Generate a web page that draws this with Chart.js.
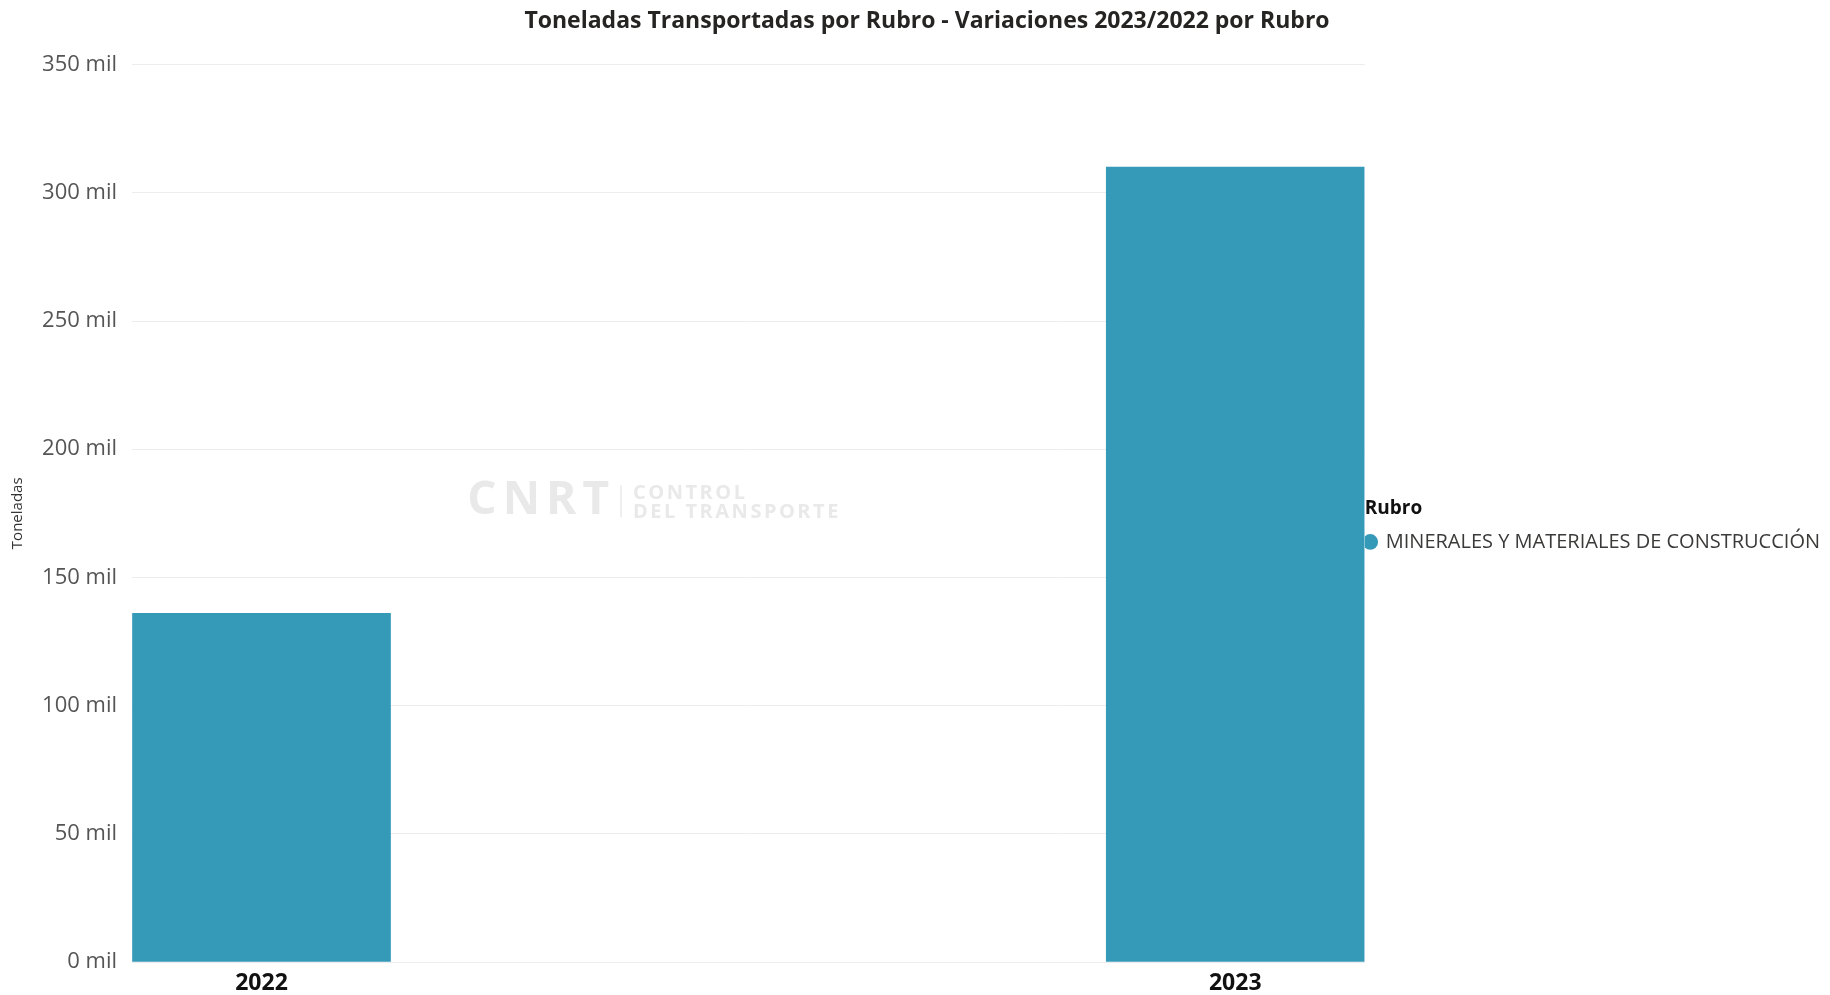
<!DOCTYPE html>
<html>
<head>
<meta charset="utf-8">
<script src="https://cdn.jsdelivr.net/npm/chart.js@4.4.1/dist/chart.umd.min.js"></script>
<style>
  html, body { margin: 0; padding: 0; background: #fff; }
  #wrap { width: 1830px; height: 995px; }
</style>
</head>
<body>
<div id="wrap"><canvas id="chart"></canvas></div>
<script>
// datos
const years = ['2022', '2023'];
const toneladas = [136000, 310000];
const rubro = 'MINERALES Y MATERIALES DE CONSTRUCCIÓN';
const yMax = 350000;
const yStep = 50000;

const FONT = "'Open Sans', 'Noto Sans', sans-serif";

// marca de agua CNRT
const watermark = {
    id: 'watermark',
    afterLayout(chart) {
        // el título está algo corrido a la derecha en el original
        const t = chart.titleBlock;
        if (t) { t.left += 12; t.right += 12; }
    },
    beforeDatasetsDraw(chart) {
        const ctx = chart.ctx;
        const a = chart.chartArea;
        const x = a.left + (a.right - a.left) * 0.272;
        const y = (a.top + a.bottom) / 2 - 12;
        ctx.save();
        ctx.fillStyle = '#e9e9e9';
        ctx.strokeStyle = '#e9e9e9';
        ctx.textBaseline = 'middle';
        ctx.font = `bold 46px ${FONT}`;
        ctx.letterSpacing = '6px';
        ctx.fillText('CNRT', x, y);
        const w = ctx.measureText('CNRT').width;
        ctx.lineWidth = 1.5;
        ctx.beginPath();
        ctx.moveTo(x + w + 6, y - 16);
        ctx.lineTo(x + w + 6, y + 16);
        ctx.stroke();
        ctx.font = `bold 20px ${FONT}`;
        ctx.letterSpacing = '2.5px';
        ctx.fillText('CONTROL', x + w + 18, y - 8);
        ctx.fillText('DEL TRANSPORTE', x + w + 18, y + 11);
        ctx.restore();
    }
};

new Chart(document.getElementById('chart'), {
    type: 'bar',
    data: {
        datasets: [{
            label: rubro,
            data: toneladas.map((v, i) => ({ x: i, y: v })),
            backgroundColor: '#3599B8',
            borderWidth: 0,
            barThickness: 258
        }]
    },
    options: {
        responsive: true,
        maintainAspectRatio: false,
        animation: false,
        // el padding inferior negativo baja las etiquetas del eje x
        layout: { padding: { left: 0, right: 0, top: 0, bottom: -10 } },
        plugins: {
            title: {
                display: true,
                text: 'Toneladas Transportadas por Rubro - Variaciones 2023/2022 por Rubro',
                color: '#252423',
                font: { family: FONT, size: 23, weight: 'bold' },
                padding: { top: 8, bottom: 29 }
            },
            legend: {
                position: 'right',
                align: 'center',
                maxWidth: 520,
                title: {
                    display: true,
                    text: 'Rubro',
                    position: 'start',
                    color: '#111',
                    font: { family: FONT, size: 19, weight: 'bold' },
                    padding: { top: 46, bottom: 10 }
                },
                labels: {
                    usePointStyle: true,
                    pointStyle: 'circle',
                    boxWidth: 11,
                    boxHeight: 11,
                    padding: 0,
                    color: '#3b3a39',
                    font: { family: FONT, size: 20 }
                }
            },
            tooltip: { enabled: false }
        },
        scales: {
            x: {
                type: 'linear',
                offset: false,
                min: -0.133,
                max: 1.133,
                grid: { display: false, drawTicks: false },
                border: { display: false },
                afterBuildTicks: (scale) => {
                    scale.ticks = years.map((_, i) => ({ value: i }));
                },
                ticks: {
                    padding: 11,
                    maxRotation: 0,
                    color: '#111',
                    font: { family: FONT, size: 23, weight: 'bold', lineHeight: 0.913 },
                    callback: (v) => years[v] ?? ''
                }
            },
            y: {
                min: 0,
                max: yMax,
                afterFit: (scale) => { scale.width = 132; },
                grid: { color: '#ededed', drawTicks: false },
                border: { display: false },
                ticks: {
                    stepSize: yStep,
                    padding: 15,
                    color: '#555',
                    font: { family: FONT, size: 22 },
                    callback: (v) => (v / 1000) + ' mil'
                },
                title: {
                    display: true,
                    text: 'Toneladas',
                    color: '#333',
                    padding: { top: 9, bottom: 0 },
                    font: { family: FONT, size: 15 }
                }
            }
        }
    },
    plugins: [watermark]
});
</script>
</body>
</html>
